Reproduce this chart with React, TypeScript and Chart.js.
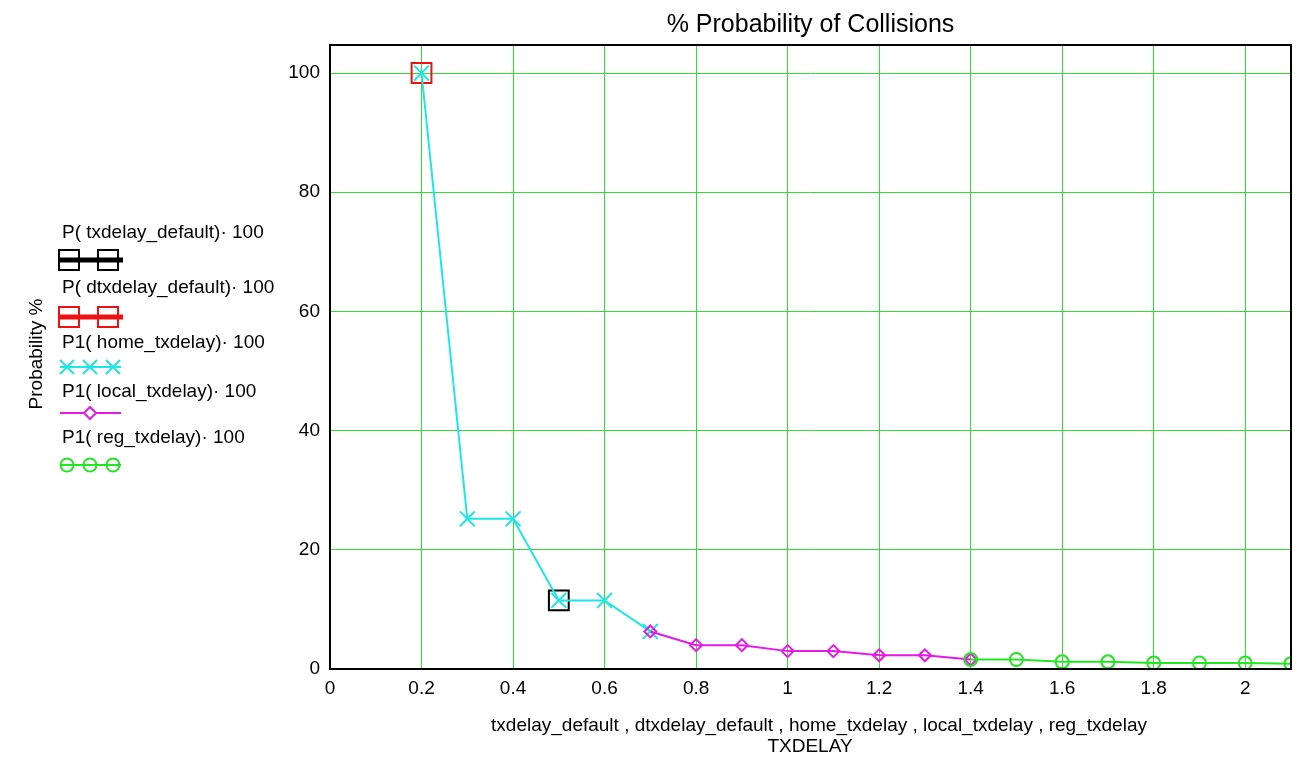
import { useEffect, useRef } from "react";
import { Chart, registerables } from "chart.js";

Chart.register(...registerables);

// values (TXDELAY vs probability %)
const txDefaultX = [0.5];
const txDefaultY = [11.5];
const dtxDefaultX = [0.2];
const dtxDefaultY = [100];
const homeX = [0.2, 0.3, 0.4, 0.5, 0.6, 0.7];
const homeY = [100, 25.2, 25.2, 11.5, 11.5, 6.3];
const localX = [0.7, 0.8, 0.9, 1.0, 1.1, 1.2, 1.3, 1.4];
const localY = [6.3, 4.0, 4.0, 3.0, 3.0, 2.3, 2.3, 1.6];
const regX = [1.4, 1.5, 1.6, 1.7, 1.8, 1.9, 2.0, 2.1];
const regY = [1.6, 1.6, 1.2, 1.2, 1.0, 1.0, 1.0, 0.9];

const legendLabels = [
  "P( txdelay_default)\u00b7 100",
  "P( dtxdelay_default)\u00b7 100",
  "P1( home_txdelay)\u00b7 100",
  "P1( local_txdelay)\u00b7 100",
  "P1( reg_txdelay)\u00b7 100",
];

const TITLE = "% Probability of Collisions";
const Y_TITLE = "Probability %";
const X_TITLE = "txdelay_default , dtxdelay_default , home_txdelay , local_txdelay , reg_txdelay";
const X_TITLE2 = "TXDELAY";

const BLACK = "#000000";
const RED = "#ee1111";
const CYAN = "#1ee6e6";
const MAGENTA = "#e619e6";
const GREEN = "#22e622";
const GRID = "#33dd33";
const FONT = "Liberation Sans, Arial, sans-serif";

const pts = (xs: number[], ys: number[]) => xs.map((x, i) => ({ x, y: ys[i] }));

const decorations = {
  id: "mathcadDecorations",
  afterDraw(chart: Chart) {
    const ctx = chart.ctx;
    const a = chart.chartArea;
    ctx.save();

    // plot frame
    ctx.strokeStyle = BLACK;
    ctx.lineWidth = 2;
    ctx.strokeRect(a.left, a.top, a.right - a.left, a.bottom - a.top);

    ctx.fillStyle = BLACK;
    ctx.textAlign = "center";
    ctx.textBaseline = "alphabetic";
    ctx.font = `25px ${FONT}`;
    ctx.fillText(TITLE, (a.left + a.right) / 2, 32);

    ctx.font = `19px ${FONT}`;
    ctx.fillText(X_TITLE, 819, 731);
    ctx.fillText(X_TITLE2, 810, 752);

    // y title
    ctx.save();
    ctx.translate(42, 354);
    ctx.rotate(-Math.PI / 2);
    ctx.fillText(Y_TITLE, 0, 0);
    ctx.restore();

    // legend
    ctx.textAlign = "left";
    const baselines = [238, 293, 348, 397, 443];
    legendLabels.forEach((t, i) => ctx.fillText(t, 62, baselines[i]));

    const line = (y: number, color: string, w: number, x0 = 60, x1 = 121) => {
      ctx.strokeStyle = color;
      ctx.lineWidth = w;
      ctx.beginPath();
      ctx.moveTo(x0, y);
      ctx.lineTo(x1, y);
      ctx.stroke();
    };
    // black squares
    line(260, BLACK, 5, 58, 123);
    ctx.lineWidth = 2;
    [69, 108].forEach((cx) => ctx.strokeRect(cx - 10, 250, 20, 20));
    // red squares
    line(317, RED, 5, 58, 123);
    ctx.strokeStyle = RED;
    ctx.lineWidth = 2;
    [69, 108].forEach((cx) => ctx.strokeRect(cx - 10, 307, 20, 20));
    // cyan crosses
    line(367, CYAN, 2);
    ctx.strokeStyle = CYAN;
    [67, 90, 113].forEach((cx) => {
      ctx.beginPath();
      ctx.moveTo(cx - 7, 360);
      ctx.lineTo(cx + 7, 374);
      ctx.moveTo(cx + 7, 360);
      ctx.lineTo(cx - 7, 374);
      ctx.stroke();
    });
    // magenta diamond
    line(413, MAGENTA, 2);
    ctx.strokeStyle = MAGENTA;
    ctx.beginPath();
    ctx.moveTo(84, 413);
    ctx.lineTo(90, 407);
    ctx.lineTo(96, 413);
    ctx.lineTo(90, 419);
    ctx.closePath();
    ctx.fillStyle = "#ffffff";
    ctx.fill();
    ctx.stroke();
    // green circles
    line(465, GREEN, 2);
    ctx.strokeStyle = GREEN;
    [67, 90, 113].forEach((cx) => {
      ctx.beginPath();
      ctx.arc(cx, 465, 6.5, 0, Math.PI * 2);
      ctx.stroke();
    });

    ctx.restore();
  },
};

const CollisionChart = () => {
  const canvasRef = useRef<HTMLCanvasElement | null>(null);

  useEffect(() => {
    if (!canvasRef.current) return;
    const chart = new Chart(canvasRef.current, {
      type: "line",
      data: {
        datasets: [
          {
            label: legendLabels[0],
            data: pts(txDefaultX, txDefaultY),
            borderColor: BLACK,
            backgroundColor: "rgba(0,0,0,0)",
            pointStyle: "rect",
            pointRadius: 14,
            pointBorderWidth: 2,
            borderWidth: 4,
            order: 5,
          },
          {
            label: legendLabels[1],
            data: pts(dtxDefaultX, dtxDefaultY),
            borderColor: RED,
            backgroundColor: "rgba(0,0,0,0)",
            pointStyle: "rect",
            pointRadius: 14,
            pointBorderWidth: 2,
            borderWidth: 4,
            order: 4,
          },
          {
            label: legendLabels[2],
            data: pts(homeX, homeY),
            borderColor: CYAN,
            backgroundColor: "rgba(0,0,0,0)",
            pointStyle: "crossRot",
            pointRadius: 10.5,
            pointBorderWidth: 2,
            borderWidth: 2,
            order: 3,
          },
          {
            label: legendLabels[3],
            data: pts(localX, localY),
            borderColor: MAGENTA,
            backgroundColor: "rgba(0,0,0,0)",
            pointStyle: "rectRot",
            pointRadius: 6,
            pointBorderWidth: 2,
            borderWidth: 2,
            order: 2,
          },
          {
            label: legendLabels[4],
            data: pts(regX, regY),
            borderColor: GREEN,
            backgroundColor: "rgba(0,0,0,0)",
            pointStyle: "circle",
            pointRadius: 6.5,
            pointBorderWidth: 2,
            borderWidth: 2,
            order: 1,
          },
        ],
      },
      options: {
        animation: false,
        responsive: true,
        maintainAspectRatio: false,
        devicePixelRatio: 1,
        layout: { padding: { top: 45, right: 24, left: 0, bottom: 0 } },
        plugins: {
          legend: { display: false },
          tooltip: { enabled: false },
          title: { display: false },
        },
        elements: { line: { tension: 0 } },
        scales: {
          x: {
            type: "linear",
            min: 0,
            max: 2.1,
            afterFit: (scale: any) => {
              scale.height = 98;
            },
            grid: { color: GRID, lineWidth: 1, drawTicks: false },
            border: { display: false },
            ticks: {
              stepSize: 0.2,
              includeBounds: false,
              color: BLACK,
              padding: 8,
              maxRotation: 0,
              font: { family: FONT, size: 19 },
              callback: (v: any) => String(Number(Number(v).toFixed(1))),
            },
          },
          y: {
            type: "linear",
            min: 0,
            max: 104.7,
            afterFit: (scale: any) => {
              scale.width = 330;
            },
            grid: { color: GRID, lineWidth: 1, drawTicks: false },
            border: { display: false },
            ticks: {
              stepSize: 20,
              includeBounds: false,
              color: BLACK,
              padding: 10,
              font: { family: FONT, size: 19 },
            },
          },
        },
      },
      plugins: [decorations],
    });
    return () => chart.destroy();
  }, []);

  return (
    <div style={{ position: "fixed", left: 0, top: 0, width: "1315px", height: "767px", background: "#ffffff" }}>
      <canvas ref={canvasRef} />
    </div>
  );
};

export default function App() {
  return <CollisionChart />;
}
